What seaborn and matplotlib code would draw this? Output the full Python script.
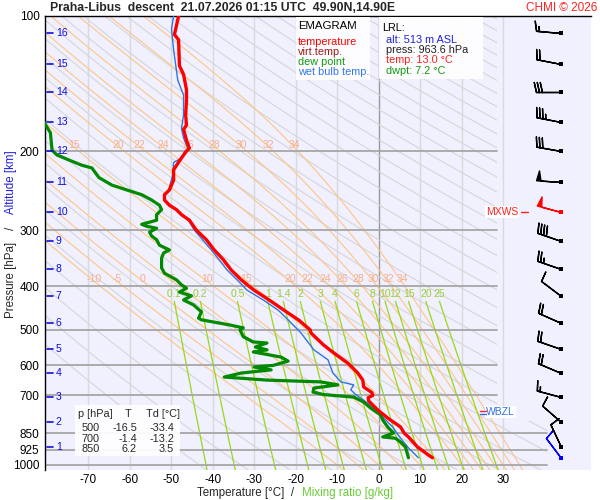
import numpy as np
import matplotlib
matplotlib.use('Agg')
import matplotlib.pyplot as plt
import seaborn as sns
from matplotlib.patches import Polygon, Rectangle

sns.set_theme(style='white')
plt.rcParams['font.family'] = ['Liberation Sans', 'DejaVu Sans']

# ---------------- data ----------------
temp_p = [100, 110, 113, 129, 135, 146, 154, 166, 175, 179, 189, 197, 200, 207, 220, 232,
          244, 250, 257, 264, 270, 277, 285, 300, 315, 332, 349, 368, 387, 400, 408, 429,
          452, 476, 500, 508, 541, 563, 593, 624, 647, 670, 690, 700, 708, 720, 754, 786,
          823, 850, 866, 912, 950, 963.6]
temp_T = [-48.2, -49.2, -48.2, -48.0, -47.0, -46.3, -46.3, -46.5, -46.3, -47.0, -46.3, -45.6,
          -46.3, -47.5, -49.4, -49.4, -50.4, -51.6, -51.6, -50.4, -48.7, -47.5, -45.6, -43.9,
          -41.5, -39.6, -37.4, -35.5, -33.1, -31.2, -30.0, -26.4, -22.8, -19.2, -16.5, -16.3,
          -13.2, -10.8, -7.4, -5.0, -3.8, -3.6, -1.6, -1.4, -2.5, -2.4, -0.2, 2.2, 5.3, 6.2,
          7.2, 9.4, 12.0, 13.0]

dew_p = [170, 177, 182, 199, 204, 209, 215, 218, 229, 238, 244, 250, 257, 264, 270, 277, 285,
         291, 294, 297, 303, 309, 315, 324, 332, 337, 346, 364, 374, 387, 397, 404, 412, 420,
         429, 440, 456, 471, 475, 488, 495, 500, 518, 532, 535, 546, 554, 560, 575, 587, 600,
         605, 614, 624, 637, 647, 653, 663, 674, 688, 697, 706, 724, 747, 774, 794, 823, 849,
         866, 872, 889, 912, 963.6]
dew_T = [-81.0, -79.9, -79.1, -78.7, -77.5, -74.8, -71.5, -69.1, -67.4, -64.3, -60.7, -57.1,
         -54.7, -52.8, -52.3, -53.5, -53.5, -57.1, -55.9, -53.5, -55.2, -54.7, -53.5, -52.8,
         -50.4, -51.8, -52.3, -52.3, -51.6, -48.7, -47.5, -46.3, -48.0, -45.1, -47.0, -44.6,
         -42.7, -43.4, -42.7, -35.7, -32.6, -33.4, -32.6, -30.2, -26.9, -29.7, -26.9, -30.2,
         -23.5, -21.8, -25.4, -30.0, -25.9, -33.1, -37.2, -26.9, -13.9, -9.8, -15.6, -15.8,
         -13.2, -6.0, -3.6, -1.9, 0.5, 1.0, 2.2, 3.6, 1.0, 4.1, 5.3, 6.5, 7.2]

wet_p = [100, 107, 119, 139, 150, 166, 178, 187, 197, 201, 207, 212, 226, 244, 250, 257, 270,
         285, 300, 332, 368, 387, 408, 429, 452, 475, 508, 554, 583, 624, 653, 663, 680, 697,
         717, 747, 782, 823, 872, 916, 963.6]
wet_T = [-49.4, -49.9, -49.4, -48.4, -47.0, -47.0, -47.5, -47.0, -46.0, -46.8, -47.5, -49.4,
         -49.6, -50.6, -51.6, -51.6, -48.7, -45.8, -44.4, -40.3, -36.5, -34.1, -31.7, -27.8,
         -24.2, -21.8, -18.7, -15.6, -12.2, -11.0, -9.1, -6.0, -6.7, -5.5, -3.6, -1.2, 1.0,
         3.4, 5.3, 7.2, 9.6]

# wind barbs (surface + every km), direction [deg], speed [kt]
barb_p = [963.6, 912, 802, 707, 625, 551, 483, 420, 366, 317, 273, 234, 200, 172, 148, 128, 109]
barb_dir = [323, 335, 311, 285, 293, 289, 294, 307, 289, 289, 285, 274, 280, 281, 270, 281, 275]
barb_spd = [10, 10, 10, 15, 20, 20, 20, 10, 25, 40, 50, 50, 30, 35, 30, 20, 15]

alt_km = [1, 2, 3, 4, 5, 6, 7, 8, 9, 10, 11, 12, 13, 14, 15, 16]
alt_p = [912, 802, 707, 625, 551, 483, 420, 366, 317, 273, 234, 200, 172, 148, 128, 109]

p_ticks = [100, 200, 300, 400, 500, 600, 700, 850, 925, 1000]
t_ticks = [-70, -60, -50, -40, -30, -20, -10, 0, 10, 20, 30]

thw_list = [-10, -5, 0, 5, 10, 15, 20, 22, 24, 26, 28, 30, 32, 34]
mix_list = [0.1, 0.2, 0.5, 1, 1.4, 2, 3, 4, 6, 8, 10, 12, 15, 20, 25]
mix_lbls = ['0.1', '0.2', '0.5', '1', '1.4', '2', '3', '4', '6', '8', '10', '12', '15', '20', '25']
theta_list = list(range(230, 620, 10))

tbl_p = [500, 700, 850]
tbl_T = [-16.5, -1.4, 6.2]
tbl_Td = [-33.4, -13.2, 3.5]

# ---------------- figure ----------------
W, H = 600, 500
fig = plt.figure(figsize=(6, 5), dpi=100)
fig.patch.set_facecolor('white')
ax = fig.add_axes([45 / W, 30 / H, 546 / W, 454 / H])
ax.set_facecolor('#F0F0FF')
ax.set_yscale('log')
PBOT, PTOP = 1026, 100
TL, TR = -80.4, 51.2
ax.set_ylim(PBOT, PTOP)
ax.set_xlim(TL, TR)


def F(x, y):
    return (x / W, 1 - y / H)


clip = Polygon([(TL, PTOP), (28.6, PTOP), (28.6, 800), (40.5, 800), (40.5, PBOT), (TL, PBOT)],
               closed=True, transform=ax.transData, facecolor='none', edgecolor='none')

# isotherms
for t in t_ticks:
    ax.axvline(t, color='#999999' if t == 0 else '#DADADA', lw=1.0, zorder=1)

# dry adiabats
pp = np.geomspace(PTOP, PBOT, 200)
for th in theta_list:
    l, = ax.plot(th * (pp / 1000.0) ** 0.2857 - 273.15, pp, color='#D6D6D6', lw=0.8, zorder=1)
    l.set_clip_path(clip)

# pseudo-adiabats
Rd, Cp, Lv, eps = 287.04, 1005.7, 2.501e6, 0.622


def sat_vp(tc):
    return 6.112 * np.exp(17.67 * tc / (tc + 243.5))


def dTdlnp(T, lnp):
    p = np.exp(lnp)
    e = sat_vp(T - 273.15)
    rs = eps * e / (p - e)
    return (Rd * T + Lv * rs) / (Cp + Lv ** 2 * rs * eps / (Rd * T ** 2))


def integrate(T0, lnps):
    out = [T0]
    T = T0
    for i in range(1, len(lnps)):
        h = lnps[i] - lnps[i - 1]
        x0 = lnps[i - 1]
        k1 = dTdlnp(T, x0)
        k2 = dTdlnp(T + h * k1 / 2, x0 + h / 2)
        k3 = dTdlnp(T + h * k2 / 2, x0 + h / 2)
        k4 = dTdlnp(T + h * k3, x0 + h)
        T = T + h * (k1 + 2 * k2 + 2 * k3 + k4) / 6
        out.append(T)
    return np.array(out)


lnp_up = np.linspace(np.log(1000), np.log(PTOP), 300)
lnp_dn = np.linspace(np.log(1000), np.log(PBOT), 10)
moist = {}
for thw in thw_list:
    Tu = integrate(thw + 273.15, lnp_up)
    Tdn = integrate(thw + 273.15, lnp_dn)
    pm = np.concatenate([np.exp(lnp_up[::-1]), np.exp(lnp_dn[1:])])
    Tm = np.concatenate([Tu[::-1], Tdn[1:]]) - 273.15
    moist[thw] = (pm, Tm)
    l, = ax.plot(Tm, pm, color='#FFC586', lw=0.8, zorder=2)
    l.set_clip_path(clip)

for prow in (194, 386):
    for thw in thw_list:
        pm, Tm = moist[thw]
        tx = np.interp(np.log(prow), np.log(pm), Tm)
        if TL + 3 < tx < 28:
            ax.text(tx + 0.5, prow, str(thw), color='#F7AE8A', fontsize=7.5, ha='center',
                    va='center', zorder=3)

# mixing ratio lines
pw = np.geomspace(432, PBOT, 60)
for w, lab in zip(mix_list, mix_lbls):
    e = w * pw / (622.0 + w)
    a = np.log(e / 6.112)
    td = 243.5 * a / (17.67 - a)
    l, = ax.plot(td, pw, color='#99D814', lw=0.9, zorder=2)
    l.set_clip_path(clip)
    ax.text(td[0], 417, lab, color='#99D033', fontsize=7.5, ha='center', va='center', zorder=3)

# isobars
for p in p_ticks[1:]:
    xr = 28.6 if p < 800 else 40.5
    ax.plot([TL, xr], [p, p], color='#A6A6A6', lw=1.3, zorder=2)

# profiles
sns.lineplot(x=wet_T, y=wet_p, sort=False, estimator=None, color='#2F74E0', lw=1.0, ax=ax,
             zorder=5)
sns.lineplot(x=dew_T, y=dew_p, sort=False, estimator=None, color='#008A00', lw=2.3, ax=ax,
             zorder=6)
sns.lineplot(x=temp_T, y=temp_p, sort=False, estimator=None, color='#A01818', lw=1.0, ax=ax,
             zorder=6)
sns.lineplot(x=temp_T, y=temp_p, sort=False, estimator=None, color='#FF0000', lw=2.4, ax=ax,
             zorder=7)

# altitude ticks
for km, p in zip(alt_km, alt_p):
    ax.plot([-79.8, -78.4], [p, p], color='#1010E0', lw=1.2, zorder=8, clip_on=False)
    ax.text(-77.8, p, str(km), color='#1010E0', fontsize=7.5, ha='left', va='center', zorder=8)

# wind barbs
bx = 44.0
spd = np.array(barb_spd, float)
dr = np.deg2rad(np.array(barb_dir, float))
u = -spd * np.sin(dr)
v = -spd * np.cos(dr)
bp = np.array(barb_p)
colors = ['#0000FF'] + ['black'] * 9 + ['#FF0000'] + ['black'] * 6
for i in range(len(bp)):
    ax.barbs([bx], [bp[i]], [u[i]], [v[i]], length=6.0, color=colors[i], linewidth=1.0,
             sizes=dict(spacing=0.12, height=0.4, width=0.18), zorder=8)
    ax.scatter([bx], [bp[i]], marker='s', s=7, color=colors[i], zorder=9, linewidths=0)

# MXWS / WBZL
ax.text(33.6, 273, 'MXWS', color='#FF2020', fontsize=7.5, ha='right', va='center', zorder=9,
        bbox=dict(facecolor='white', edgecolor='none', pad=0.6))
ax.plot([34.4, 36.0], [273, 273], color='#FF2020', lw=1.0, zorder=9)
ax.text(26.0, 763, 'WBZL', color='#3070E0', fontsize=7.5, ha='left', va='center', zorder=9,
        bbox=dict(facecolor='white', edgecolor='none', pad=0.8))
ax.plot([24.4, 25.9], [758, 758], color='#FF2020', lw=1.0, zorder=10)
ax.plot([24.4, 25.9], [768, 768], color='#3070E0', lw=1.0, zorder=10)

# axes styling
for s in ['bottom', 'right']:
    ax.spines[s].set_visible(False)
for s in ['left', 'top']:
    ax.spines[s].set_color('black')
    ax.spines[s].set_linewidth(1.0)
ax.set_yticks(p_ticks)
ax.set_yticklabels([str(p) for p in p_ticks])
ax.yaxis.set_minor_locator(matplotlib.ticker.NullLocator())
ax.set_xticks(t_ticks)
ax.set_xticklabels([str(t) for t in t_ticks])
ax.tick_params(axis='both', length=0, labelsize=8.5, colors='black')
ax.tick_params(axis='y', pad=4)
ax.tick_params(axis='x', pad=3)
ax.set_xlabel('')
ax.set_ylabel('')
ax.grid(False)

# boxes
def box(x0, y0, x1, y1):
    fig.patches.append(Rectangle(F(x0, y1), (x1 - x0) / W, (y1 - y0) / H, transform=fig.transFigure,
                                 facecolor='white', edgecolor='none', alpha=0.92, zorder=1))


box(296, 17, 370, 80)
box(379, 17, 483, 79)
box(75, 405, 180, 456)

fs = 7.8
fig.text(*F(298, 26), 'EMAGRAM', fontsize=8.2, color='black', va='center')
for yy, txt, col in [(42, 'temperature', '#FF0000'), (52, 'virt.temp.', '#A01818'),
                     (62, 'dew point', '#119911'), (72, 'wet bulb temp.', '#3377EE')]:
    fig.text(*F(298, yy), txt, fontsize=fs, color=col, va='center')

fig.text(*F(382, 28), 'LRL:', fontsize=fs, color='black', va='center')
for yy, txt, col in [(40, 'alt: 513 m ASL', '#2020DD'), (50, 'press: 963.6 hPa', '#202020'),
                     (60, 'temp: 13.0 °C', '#FF2020'), (71, 'dwpt: 7.2 °C', '#119911')]:
    fig.text(*F(386, yy), txt, fontsize=fs, color=col, va='center')

fig.text(*F(78, 414), 'p [hPa]', fontsize=fs, va='center')
fig.text(*F(125, 414), 'T', fontsize=fs, va='center')
fig.text(*F(146, 414), 'Td [°C]', fontsize=fs, va='center')
for i, yy in enumerate([428, 438.5, 448.5]):
    fig.text(*F(100, yy), str(tbl_p[i]), fontsize=fs, va='center', ha='right')
    fig.text(*F(137, yy), f'{tbl_T[i]:.1f}', fontsize=fs, va='center', ha='right')
    fig.text(*F(174, yy), f'{tbl_Td[i]:.1f}', fontsize=fs, va='center', ha='right')

# titles and axis labels
fig.text(*F(50, 8), 'Praha-Libus  descent  21.07.2026 01:15 UTC  49.90N,14.90E',
         fontsize=8.8, fontweight='bold', va='center', ha='left')
fig.text(*F(597, 8), 'CHMI © 2026', fontsize=8.5, color='#FF2020', va='center', ha='right')

fig.text(*F(197, 493), 'Temperature [°C]  /', fontsize=8.3, va='center', ha='left')
fig.text(*F(302, 493), 'Mixing ratio [g/kg]', fontsize=8.3, va='center', ha='left',
         color='#66CC33')
fig.text(*F(11, 242), 'Pressure [hPa]', fontsize=8.3, rotation=90, ha='center', va='top')
fig.text(*F(11, 228), '/', fontsize=8.3, rotation=90, ha='center', va='center')
fig.text(*F(11, 214), 'Altitude [km]', fontsize=8.3, rotation=90, ha='center', va='bottom',
         color='#2020DD')

fig.savefig('out.png', dpi=100, facecolor='white')
